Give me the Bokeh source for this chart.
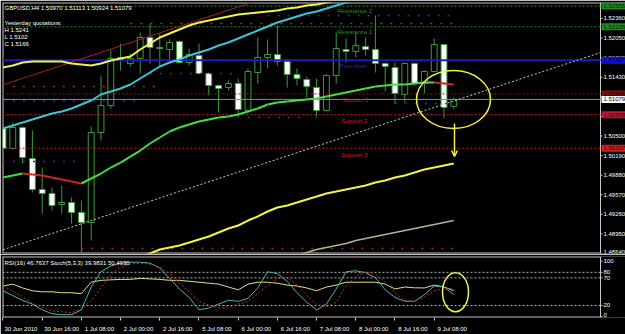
from bokeh.plotting import figure
from bokeh.layouts import column
from bokeh.models import Range1d, FixedTicker, Label, Arrow, OpenHead
from bokeh.core.properties import value
from bokeh.embed import file_html
from bokeh.resources import INLINE

# ---------------- data ----------------
bars = list(range(47))
open_ = [1.50619, 1.50302, 1.50635, 1.50144, 1.49653, 1.49590, 1.49416, 1.49447, 1.49289, 1.49131,
         1.50555, 1.50983, 1.51743, 1.51648, 1.51727, 1.52059, 1.51901, 1.51869, 1.51996, 1.51663,
         1.51774, 1.51489, 1.51299, 1.51268, 1.51331, 1.50904, 1.51505, 1.51743, 1.51790, 1.51679,
         1.51474, 1.51394, 1.51268, 1.50904, 1.51458, 1.51869, 1.51838, 1.51917, 1.51869, 1.51648,
         1.51584, 1.51157, 1.51648, 1.51331, 1.51521, 1.51948, 1.50970]
high = [1.50666, 1.50714, 1.50650, 1.50587, 1.50001, 1.49685, 1.49716, 1.49526, 1.49479, 1.50650,
        1.51458, 1.51869, 1.51964, 1.51806, 1.52138, 1.52281, 1.52123, 1.52028, 1.52012, 1.51885,
        1.51964, 1.51505, 1.51315, 1.51379, 1.51410, 1.51568, 1.52059, 1.52028, 1.52249, 1.51695,
        1.51568, 1.51442, 1.51410, 1.51474, 1.52138, 1.52043, 1.52123, 1.52059, 1.52407, 1.51663,
        1.51663, 1.51663, 1.51663, 1.51537, 1.52043, 1.51960, 1.51113]
low = [1.50270, 1.50286, 1.50065, 1.49606, 1.49273, 1.49321, 1.49273, 1.49115, 1.48660, 1.48846,
       1.50429, 1.50935, 1.51537, 1.51600, 1.51489, 1.51648, 1.51584, 1.51695, 1.51648, 1.51616,
       1.51474, 1.51141, 1.50872, 1.51220, 1.50793, 1.50872, 1.51331, 1.51568, 1.51616, 1.51268,
       1.51299, 1.51109, 1.50793, 1.50888, 1.51331, 1.51663, 1.51743, 1.51774, 1.51505, 1.51204,
       1.51014, 1.51030, 1.51299, 1.51173, 1.51505, 1.50777, 1.50924]
close = [1.50302, 1.50635, 1.50160, 1.49653, 1.49590, 1.49400, 1.49447, 1.49289, 1.49131, 1.50555,
         1.50983, 1.51727, 1.51695, 1.51727, 1.52059, 1.51901, 1.51885, 1.51980, 1.51663, 1.51790,
         1.51489, 1.51299, 1.51252, 1.51331, 1.50919, 1.51521, 1.51743, 1.51790, 1.51679, 1.51474,
         1.51410, 1.51284, 1.50904, 1.51458, 1.51885, 1.51838, 1.51933, 1.51869, 1.51648, 1.51600,
         1.51173, 1.51648, 1.51331, 1.51521, 1.51948, 1.50951, 1.51079]

upper_band = [1.51584, 1.51616, 1.51663, 1.51679, 1.51679, 1.51679, 1.51679, 1.51648, 1.51632, 1.51616,
              1.51648, 1.51695, 1.51727, 1.51758, 1.51869, 1.51964, 1.52059, 1.52123, 1.52186, 1.52249,
              1.52297, 1.52328, 1.52360, 1.52392, 1.52423, 1.52439, 1.52455, 1.52471, 1.52487, 1.52518,
              1.52534, 1.52566, 1.52582, 1.52613, 1.52645, 1.52677]
upper_band_bars = bars[:36]
cyan_ma = [1.50619, 1.50666, 1.50714, 1.50761, 1.50809, 1.50856, 1.50888, 1.50935, 1.50999, 1.51062,
           1.51157, 1.51204, 1.51252, 1.51315, 1.51410, 1.51505, 1.51600, 1.51663, 1.51711, 1.51774,
           1.51822, 1.51869, 1.51933, 1.51980, 1.52043, 1.52107, 1.52170, 1.52233, 1.52297, 1.52344,
           1.52392, 1.52439, 1.52471, 1.52518, 1.52566, 1.52613, 1.52661]
cyan_bars = bars[:37]
color_ma = [1.49843, 1.49875, 1.49906, 1.49891, 1.49875, 1.49843, 1.49811, 1.49780, 1.49748, 1.49827,
            1.49906, 1.50001, 1.50080, 1.50175, 1.50270, 1.50381, 1.50476, 1.50571, 1.50635, 1.50682,
            1.50730, 1.50761, 1.50793, 1.50809, 1.50840, 1.50888, 1.50935, 1.50999, 1.51030, 1.51046,
            1.51062, 1.51078, 1.51094, 1.51125, 1.51157, 1.51189, 1.51220, 1.51252, 1.51284, 1.51299,
            1.51315, 1.51315, 1.51331, 1.51347, 1.51347, 1.51331, 1.51315]
lower_band = [1.48577, 1.48640, 1.48703, 1.48735, 1.48767, 1.48814, 1.48862, 1.48909, 1.48972, 1.49036,
              1.49083, 1.49162, 1.49226, 1.49305, 1.49368, 1.49400, 1.49447, 1.49495, 1.49542, 1.49590,
              1.49621, 1.49653, 1.49685, 1.49716, 1.49764, 1.49796, 1.49843, 1.49875, 1.49922, 1.49970,
              1.50001, 1.50033, 1.50065]
lower_band_bars = bars[14:]
slow_ma = [1.48608, 1.48656, 1.48703, 1.48735, 1.48767, 1.48798, 1.48846, 1.48877, 1.48909, 1.48941,
           1.48972, 1.49004, 1.49036, 1.49067, 1.49099, 1.49131, 1.49162]
slow_ma_bars = bars[30:]

trend_bars = [0, 61]
trend_prices = [1.48700, 1.51822]
channel_bars = [0, 30]
channel_prices = [1.51310, 1.52851]

level_names = ["Resistance 2", "Resistance 1", "Pivot level", "Support 1", "Support 2", "Support 3"]
level_values = [1.52556, 1.52228, 1.51697, 1.51166, 1.50838, 1.50307]
level_labels = ["1.52556", "1.52228", "1.51697", "1.51166", "1.50838", "1.50307"]
current_price = 1.51079
current_label = "1.51079"

dots_start = [1, 0, 0, 8, 13, 15, 25, 27, 40]
dots_end = [16, 8, 14, 46, 46, 24, 31, 46, 46]
dots_price = [1.51284, 1.50096, 1.51054, 1.48719, 1.52281, 1.51489, 1.50793, 1.52407, 1.51014]
dots_kind = ["r", "b", "b", "r", "r", "b", "b", "b", "b"]

price_ticks = [1.48640, 1.48950, 1.49260, 1.49570, 1.49880, 1.50190, 1.50500,
               1.50810, 1.51120, 1.51430, 1.51740, 1.52050, 1.52360]

rsi = [55.2, 58.6, 51.7, 46.6, 44.8, 44.8, 43.1, 43.1, 41.4, 62.1,
       65.5, 66.4, 67.2, 67.2, 69.0, 68.1, 67.2, 65.5, 65.5, 63.8,
       62.1, 60.3, 58.6, 53.4, 48.3, 58.6, 62.1, 62.1, 60.3, 56.9,
       55.2, 51.7, 46.6, 53.4, 56.9, 62.1, 62.1, 62.1, 62.1, 58.6,
       50.0, 53.4, 52.0, 51.7, 56.9, 53.4, 46.8]
stoch_main = [46.6, 37.9, 29.3, 22.4, 12.1, 5.2, 3.4, 3.4, 12.1, 53.4,
              81.0, 91.4, 96.6, 98.3, 98.3, 96.6, 87.9, 69.0, 50.0, 34.5,
              12.1, 15.5, 22.4, 29.3, 27.6, 32.8, 51.7, 81.0, 77.6, 63.8,
              43.1, 25.9, 12.1, 22.4, 50.0, 81.0, 82.8, 79.3, 70.7, 48.3,
              34.5, 27.6, 27.6, 39.7, 55.2, 53.4, 40.0]
stoch_signal = [55.2, 46.6, 36.0, 24.1, 17.2, 10.3, 8.6, 6.9, 13.8, 29.3,
                51.7, 75.9, 89.7, 94.8, 96.6, 94.8, 89.7, 77.6, 60.3, 44.8,
                27.6, 20.7, 15.5, 17.2, 22.4, 27.6, 41.4, 55.2, 69.0, 70.7,
                56.9, 37.9, 22.4, 17.2, 25.9, 55.2, 72.4, 81.0, 77.6, 62.1,
                43.1, 29.0, 27.6, 36.2, 46.6, 50.0, 50.5]
osc_levels = [20, 70, 80]
osc_ticks = [0, 20, 70, 80, 100]

date_bars = [0, 4, 8, 12, 16, 20, 24, 28, 32, 36, 40, 44]
date_labels = ["30 Jun 2010", "30 Jun 16:00", "1 Jul 08:00", "2 Jul 00:00", "2 Jul 16:00",
               "5 Jul 08:00", "6 Jul 00:00", "6 Jul 16:00", "7 Jul 08:00", "8 Jul 00:00",
               "8 Jul 16:00", "9 Jul 08:00"]

# ---------------- layout / styles ----------------
FONT = "Liberation Sans"
FS = "6px"
GREY = "#c8c8c8"
CANDLE = "#3a9d3a"
YEL = "#f2f24a"
BAR_PX = 9.8
FRAME_L = 2
AXIS_PX = 600
X0 = -0.05
P_TOP, P_BOT = 1.52613, 1.48640
MAIN_TOP, MAIN_FH = 2, 251
R_TOP, R_BOT = 108.6, -1.7
IND_TOP, IND_FH = 256, 64


def bx(px):
    return X0 + (px - FRAME_L) / BAR_PX


def py_main(py):
    return P_TOP - (py - MAIN_TOP) * (P_TOP - P_BOT) / MAIN_FH


def py_ind(py):
    return R_TOP - (py - IND_TOP) * (R_TOP - R_BOT) / IND_FH


XA = bx(AXIS_PX)          # data x of the price-scale separator
XW = bx(625)              # right edge of window
x_range = Range1d(X0, XW)


def scale_labels(fig, ticks, labels, ymin_edge):
    """Right-hand scale drawn at the separator line through the figure's y scale."""
    k = len(ticks)
    fig.segment(x0=[XA] * k, x1=[bx(602)] * k, y0=ticks, y1=ticks, line_color=GREY, line_width=1)
    offs = [-2 if t == ymin_edge else 0 for t in ticks]
    fig.text(x=[bx(603)] * k, y=ticks, text=labels, y_offset=offs,
             text_color="white", text_font=value(FONT), text_font_size=value(FS),
             text_baseline="middle", text_align="left")


# main price panel: frame spans the whole width, price scale drawn at its right
p = figure(width=625, height=254, x_range=x_range, y_range=Range1d(P_BOT, P_TOP),
           x_axis_location=None, y_axis_location=None, toolbar_location=None,
           output_backend="svg", min_border_left=2, min_border_top=2,
           min_border_right=0, min_border_bottom=1,
           background_fill_color="black", border_fill_color="black",
           outline_line_color=None)
p.grid.visible = False

# frame border and price-scale line
p.segment(x0=[bx(2.5), X0, X0, XA], x1=[bx(2.5), XW, XA, XA],
          y0=[P_BOT, py_main(2.5), py_main(252.5), P_BOT],
          y1=[P_TOP, py_main(2.5), py_main(252.5), P_TOP], line_color=GREY, line_width=1)

# candles
bull = [c >= o for o, c in zip(open_, close)]
p.segment(x0=bars, x1=bars, y0=low, y1=high, line_color=CANDLE, line_width=1)
p.vbar(x=bars, width=0.6, top=[max(o, c) for o, c in zip(open_, close)],
       bottom=[min(o, c) for o, c in zip(open_, close)],
       fill_color=["black" if b else "white" for b in bull], line_color=CANDLE, line_width=1)

# sparse dotted day levels
dcol = {"r": "#b02828", "b": "#2828c8"}
p.segment(x0=dots_start, x1=dots_end, y0=dots_price, y1=dots_price,
          line_color=[dcol[k] for k in dots_kind], line_width=1.5, line_dash="2 8")

# pivot levels
p.segment(x0=[X0] * 2, x1=[XA] * 2, y0=level_values[:2], y1=level_values[:2],
          line_color="#2f8f2f", line_dash="2 2", line_width=1)
p.segment(x0=[X0], x1=[XA], y0=[level_values[2]], y1=[level_values[2]],
          line_color="#1c1cc0", line_width=2)
p.segment(x0=[X0] * 3, x1=[XA] * 3, y0=level_values[3:], y1=level_values[3:],
          line_color=["#8b1a1a", "#c0203c", "#c02020"], line_dash="2 2", line_width=1)
p.segment(x0=[X0], x1=[XA], y0=[current_price], y1=[current_price],
          line_color="#8c8c8c", line_width=1)

# indicator lines
p.line(channel_bars, channel_prices, line_color="#a82020", line_width=1)
p.line(trend_bars, trend_prices, line_color="#a8d8d0", line_width=1, line_dash="2 2")
p.line(slow_ma_bars, slow_ma, line_color="#b4b48c", line_width=1.5)
p.line(lower_band_bars, lower_band, line_color=YEL, line_width=2)
p.line(upper_band_bars, upper_band, line_color=YEL, line_width=2)
p.line(cyan_bars, cyan_ma, line_color="#3cc4d4", line_width=2)
seg_col = ["#d42020" if color_ma[i + 1] < color_ma[i] else "#44dd44" for i in range(len(color_ma) - 1)]
p.segment(x0=bars[:-1], x1=bars[1:], y0=color_ma[:-1], y1=color_ma[1:],
          line_color=seg_col, line_width=2)

# price scale: ticks, labels, coloured level boxes
scale_labels(p, price_ticks, [f"{t:.5f}" for t in price_ticks], min(price_ticks))
box_vals = level_values + [current_price]
box_text = level_labels + [current_label]
box_col = ["#1f8a1f", "#1f8a1f", "#1414d0", "#7a1010", "#c01838", "#d02020", "#ffffff"]
box_txt_col = ["#002800", "#002800", "#000040", "#200000", "#300008", "#300000", "black"]
p.rect(x=[bx(613)] * len(box_vals), y=box_vals, width=24, height=7,
       width_units="screen", height_units="screen", fill_color=box_col, line_color=None)
p.text(x=[bx(603)] * len(box_vals), y=box_vals, text=box_text, text_color=box_txt_col,
       text_font=value(FONT), text_font_size=value(FS),
       text_baseline="middle", text_align="left")

# hand-drawn marks
p.ellipse(x=[bx(453)], y=[py_main(99)], width=74, height=58, width_units="screen",
          height_units="screen", fill_color=None, line_color=YEL, line_width=1.5)
p.add_layout(Arrow(end=OpenHead(size=6, line_color=YEL, line_width=1.5),
                   x_start=bx(454), y_start=py_main(123), x_end=bx(454), y_end=py_main(156),
                   line_color=YEL, line_width=1.5))


def txt(fig, x, y, s, color, **kw):
    fig.add_layout(Label(x=x, y=y, text=s, text_color=color, text_font=FONT,
                         text_font_size=FS, text_baseline="middle", text_align="left", **kw))


txt(p, bx(4), py_main(7), "GBPUSD,H4  1.50970 1.51113 1.50924 1.51079", "white")
txt(p, bx(4), py_main(22), "Yesterday quotations:", "white")
txt(p, bx(4), py_main(29), "H 1.5241", "white")
txt(p, bx(4), py_main(36), "L 1.5102", "white")
txt(p, bx(4), py_main(43), "C 1.5166", "white")

name_px = [337, 337, 339, 342, 341, 341]
name_py = [10, 31, 65, 99, 120, 154]
name_col = ["#2e8b2e", "#2e8b2e", "#2828b8", "#a02020", "#c82040", "#c82828"]
for s, xp, yp, c in zip(level_names, name_px, name_py, name_col):
    txt(p, bx(xp), py_main(yp), s, c)

# ---------------- oscillator panel ----------------
q = figure(width=625, height=80, x_range=x_range, y_range=Range1d(R_BOT, R_TOP),
           y_axis_location=None, toolbar_location=None, output_backend="svg",
           min_border_left=2, min_border_top=2, min_border_right=0, min_border_bottom=14,
           background_fill_color="black", border_fill_color="black", outline_line_color=None)
q.grid.visible = False

centers = [round(b + (2 + 1.45 * len(s)) / BAR_PX, 3) for b, s in zip(date_bars, date_labels)]
qx = q.xaxis[0]
qx.ticker = FixedTicker(ticks=centers, minor_ticks=date_bars)
qx.major_label_overrides = {c: s for c, s in zip(centers, date_labels)}
qx.major_label_text_color = "white"
qx.major_label_text_font = FONT
qx.major_label_text_font_size = FS
qx.major_label_standoff = 2
qx.major_tick_line_color = None
qx.minor_tick_line_color = GREY
qx.minor_tick_out = 3
qx.minor_tick_in = 0
qx.axis_line_color = None

q.segment(x0=[bx(2.5), X0, X0, XA], x1=[bx(2.5), XA, XA, XA],
          y0=[R_BOT, py_ind(256.5), py_ind(319.5), R_BOT],
          y1=[R_TOP, py_ind(256.5), py_ind(319.5), R_TOP], line_color=GREY, line_width=1)
q.segment(x0=[X0] * 3, x1=[XA] * 3, y0=osc_levels, y1=osc_levels,
          line_color="#b4b4b4", line_dash="2 2", line_width=1)
q.line(bars, rsi, line_color="#e0e08c", line_width=1)
q.line(bars, stoch_main, line_color="#48b4ac", line_width=1)
q.line(bars, stoch_signal, line_color="#c82828", line_width=1, line_dash="2 2")
scale_labels(q, osc_ticks, [str(t) for t in osc_ticks], min(osc_ticks))
q.ellipse(x=[bx(455)], y=[py_ind(293.5)], width=26, height=39, width_units="screen",
          height_units="screen", fill_color=None, line_color=YEL, line_width=1.5)
txt(q, bx(4), py_ind(263), "RSI(16) 46.7637  Stoch(5,3,3) 39.9831 50.4930", "white")

layout = column(p, q, spacing=0)
open("out.html", "w").write(file_html(layout, INLINE))
